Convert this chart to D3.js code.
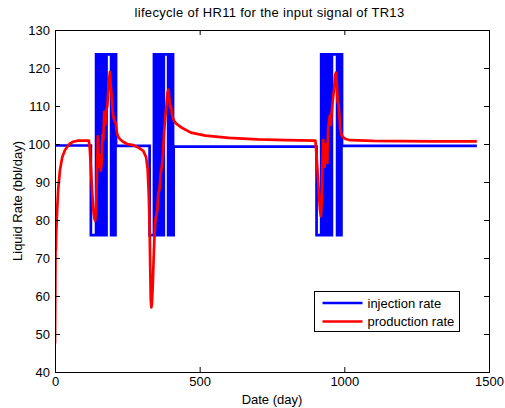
<!DOCTYPE html>
<html>
<head>
<meta charset="utf-8">
<script src="https://cdn.jsdelivr.net/npm/d3@7"></script>
<style>
  html, body { margin: 0; padding: 0; background: #fff; }
  svg { display: block; font-family: "Liberation Sans", Arial, sans-serif; }
</style>
</head>
<body>
<svg id="chart" width="505" height="408"></svg>
<script>
// ---------- data ----------
const titleText = "lifecycle of HR11 for the input signal of TR13";
const xLabel = "Date (day)";
const yLabel = "Liquid Rate (bbl/day)";
const xTicks = [0, 500, 1000, 1500];
const yTicks = [40, 50, 60, 70, 80, 90, 100, 110, 120, 130];
const seriesNames = ["injection rate", "production rate"];

// injection rate (step signal): day at which each value starts
const injDays = [
  0, 124,
  142, 145, 148, 151, 154, 157, 160, 163, 166, 169, 172, 175, 178,
  194, 197, 200, 203, 206, 209, 211,
  327,
  342, 345, 348, 351, 354, 357, 360, 363, 366, 369, 372, 374, 376,
  391, 394, 397, 400, 403, 406, 408, 410,
  904,
  920, 923, 926, 929, 932, 935, 938, 941, 944, 947, 950, 953, 957,
  975, 978, 981, 984, 987, 990, 992,
  1458
];
const injValues = [
  99.6, 76,
  123.6, 76, 123.6, 76, 123.6, 76, 123.6, 76, 123.6, 76, 123.6, 76, 123.6,
  76, 123.6, 76, 123.6, 76, 123.6, 99.5,
  76,
  123.6, 76, 123.6, 76, 123.6, 76, 123.6, 76, 123.6, 76, 123.6, 76, 123.6,
  76, 123.6, 76, 123.6, 76, 123.6, 76, 99.3,
  76,
  123.6, 76, 123.6, 76, 123.6, 76, 123.6, 76, 123.6, 76, 123.6, 76, 123.6,
  76, 123.6, 76, 123.6, 76, 123.6, 99.5,
  99.5
];

// production rate
const prodDays = [
  0, 1, 2, 3, 4, 7, 11, 17, 25, 35, 50, 63, 80, 117,
  120, 124, 128, 132, 136, 139, 142, 145, 148, 150, 152, 155, 158, 161, 164, 167,
  170, 174, 178, 181, 184, 187, 190, 193, 196, 199, 202, 206, 210, 214, 218, 224,
  235, 250, 270, 290, 305, 315, 320, 324, 327, 329, 331, 333, 335, 338, 341, 344,
  347, 351, 354, 357, 361, 365, 369, 373, 377, 381, 385, 389, 392, 395, 398, 401,
  404, 407, 412, 420, 440, 470, 520, 600, 700, 800, 900,
  904, 908, 912, 916, 919, 922, 925, 927, 930, 932, 935, 938, 941, 944, 947, 950,
  953, 956, 960, 964, 968, 971, 974, 977, 980, 983, 986, 990, 995, 1005, 1020,
  1100, 1300, 1458
];
const prodValues = [
  47.5, 60, 74, 72, 76, 82, 88, 93, 96.5, 98.5, 100, 100.6, 100.9, 100.9,
  99, 94, 88, 83, 80.5, 79.8, 83, 92, 102, 99, 94, 97, 93, 95, 102.5, 101,
  108.5, 105, 109, 110, 114, 117, 119, 115, 112.5, 109, 107, 106, 105.5, 103, 102, 101.3,
  100.6, 100, 99.7, 99, 98.2, 96.5, 93.5, 87, 78, 68, 59, 57, 58, 63, 70, 76,
  80, 81.5, 83, 87, 88, 92, 94, 97, 103, 107, 110, 113.5, 114.3, 112, 109.5, 110,
  108, 107, 106, 105.3, 104.2, 103, 102.2, 101.6, 101.2, 101, 100.9,
  97, 92, 87, 82.5, 81, 85, 96, 101, 95, 94, 100, 96, 95, 104, 106, 107.5,
  105, 108, 111.5, 114, 118, 118.8, 116, 111, 110.5, 107.5, 104, 102.5, 101.8, 101.3, 101,
  100.8, 100.7, 100.7
];

// ---------- layout ----------
const W = 505, H = 408;
const margin = { top: 30, right: 16, bottom: 36, left: 55 };
const iw = W - margin.left - margin.right;
const ih = H - margin.top - margin.bottom;

const svg = d3.select("#chart");
const g = svg.append("g").attr("transform", `translate(${margin.left},${margin.top})`);

const x = d3.scaleLinear().domain([0, 1500]).range([0, iw]);
const y = d3.scaleLinear().domain([40, 130]).range([ih, 0]);

const fontSize = 13;

svg.append("defs").append("clipPath").attr("id", "clip")
  .append("rect").attr("x", 0).attr("y", 0).attr("width", iw).attr("height", ih);

const injData = injDays.map((d, i) => [d, injValues[i]]);
const prodData = prodDays.map((d, i) => [d, prodValues[i]]);

const plot = g.append("g").attr("clip-path", "url(#clip)");

plot.append("path")
  .datum(injData)
  .attr("fill", "none")
  .attr("stroke", "#0000ff")
  .attr("stroke-width", 2.7)
  .attr("stroke-linejoin", "miter")
  .attr("d", d3.line().x(d => x(d[0])).y(d => y(d[1])).curve(d3.curveStepAfter));

plot.append("path")
  .datum(prodData)
  .attr("fill", "none")
  .attr("stroke", "#ff0000")
  .attr("stroke-width", 2.7)
  .attr("stroke-linejoin", "round")
  .attr("d", d3.line().x(d => x(d[0])).y(d => y(d[1])));

const styleAxis = sel => {
  sel.select(".domain").remove();
  sel.selectAll("line").attr("stroke", "#000").attr("stroke-width", 1);
  sel.selectAll("text").attr("fill", "#000").style("font-size", fontSize + "px")
     .style("font-family", '"Liberation Sans", Arial, sans-serif');
};

g.append("g").attr("transform", `translate(0,${ih})`)
  .call(d3.axisBottom(x).tickValues(xTicks).tickSizeInner(-5).tickSizeOuter(0).tickPadding(5).tickFormat(d3.format("d")))
  .call(styleAxis);
g.append("g")
  .call(d3.axisTop(x).tickValues(xTicks).tickSizeInner(-5).tickSizeOuter(0).tickFormat(""))
  .call(styleAxis);
g.append("g")
  .call(d3.axisLeft(y).tickValues(yTicks).tickSizeInner(-5).tickSizeOuter(0).tickPadding(5).tickFormat(d3.format("d")))
  .call(styleAxis);
g.append("g").attr("transform", `translate(${iw},0)`)
  .call(d3.axisRight(y).tickValues(yTicks).tickSizeInner(-5).tickSizeOuter(0).tickFormat(""))
  .call(styleAxis);

g.append("rect").attr("x", 0).attr("y", 0).attr("width", iw).attr("height", ih)
  .attr("fill", "none").attr("stroke", "#000").attr("stroke-width", 1)
  .attr("shape-rendering", "crispEdges");

svg.append("text")
  .attr("x", 269.5).attr("y", 17)
  .attr("text-anchor", "middle").style("font-size", "13px")
  .style("letter-spacing", "0.3px").attr("fill", "#000")
  .text(titleText);

svg.append("text")
  .attr("x", margin.left + iw / 2).attr("y", 404)
  .attr("text-anchor", "middle").style("font-size", fontSize + "px").attr("fill", "#000")
  .text(xLabel);

svg.append("text")
  .attr("transform", `translate(22,${margin.top + ih / 2}) rotate(-90)`)
  .attr("text-anchor", "middle").style("font-size", fontSize + "px").attr("fill", "#000")
  .text(yLabel);

const lg = svg.append("g").attr("transform", "translate(314.5,291.5)");
lg.append("rect").attr("width", 145).attr("height", 40)
  .attr("fill", "#fff").attr("stroke", "#000").attr("stroke-width", 1);
const colors = ["#0000ff", "#ff0000"];
seriesNames.forEach((name, i) => {
  const yy = 11.5 + i * 18.5;
  lg.append("line").attr("x1", 8).attr("x2", 48).attr("y1", yy).attr("y2", yy)
    .attr("stroke", colors[i]).attr("stroke-width", 2.6);
  lg.append("text").attr("x", 53).attr("y", yy + 4.5)
    .style("font-size", fontSize + "px").attr("fill", "#000").text(name);
});
</script>
</body>
</html>
